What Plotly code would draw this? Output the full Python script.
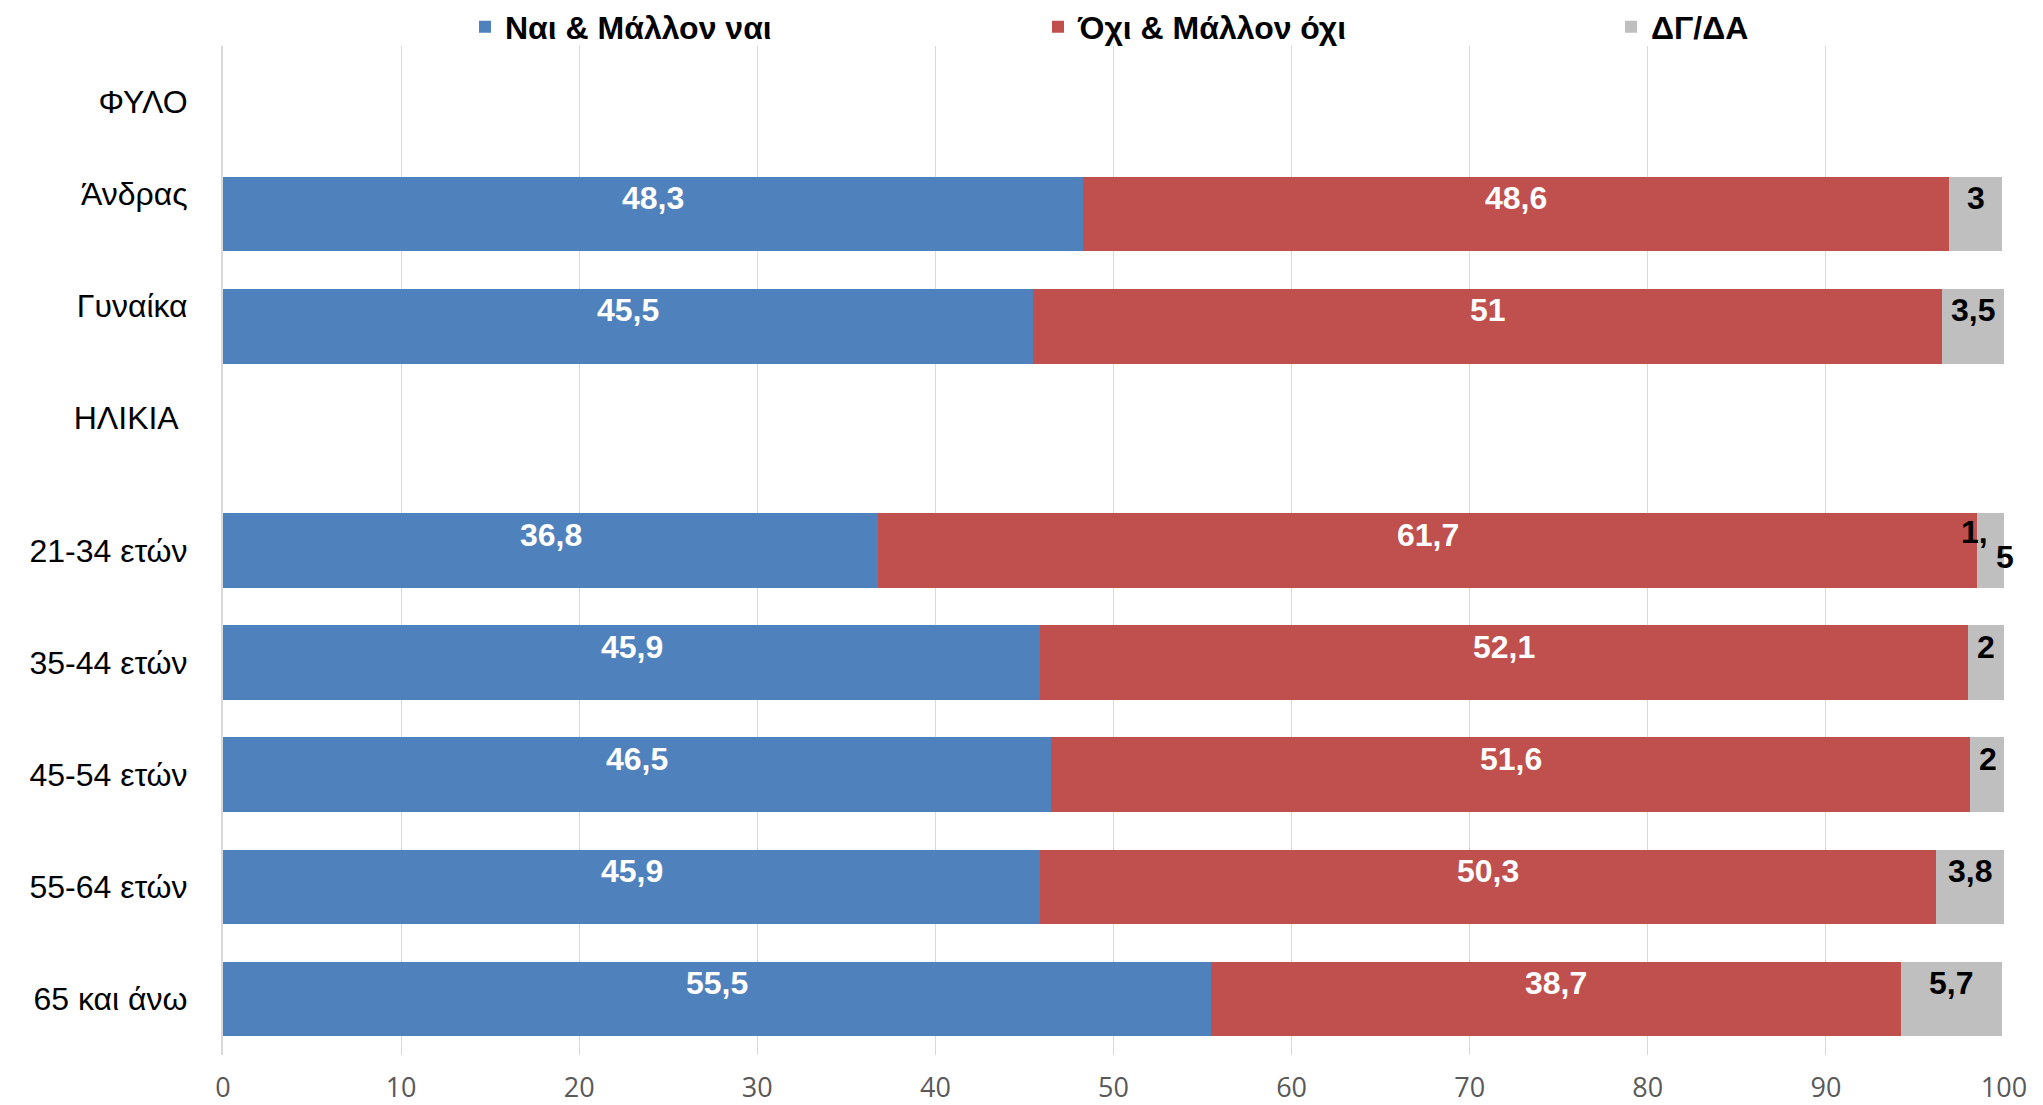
import plotly.graph_objects as go

categories = ["ΦΥΛΟ", "Άνδρας", "Γυναίκα", "ΗΛΙΚΙΑ", "21-34 ετών",
              "35-44 ετών", "45-54 ετών", "55-64 ετών", "65 και άνω"]
yes_vals = [None, 48.3, 45.5, None, 36.8, 45.9, 46.5, 45.9, 55.5]
no_vals = [None, 48.6, 51, None, 61.7, 52.1, 51.6, 50.3, 38.7]
dk_vals = [None, 3, 3.5, None, 1.5, 2, 2, 3.8, 5.7]
series_names = ["Ναι & Μάλλον ναι", "Όχι & Μάλλον όχι", "ΔΓ/ΔΑ"]
x_ticks = [0, 10, 20, 30, 40, 50, 60, 70, 80, 90, 100]

colors = ["#4F81BD", "#C0504D", "#BFBFBF"]
label_colors = ["white", "white", "black"]
# display text of category ticks (some carry an empty second line, as in the source)
tick_text = ["ΦΥΛΟ", "Άνδρας<br>&nbsp;", "Γυναίκα<br>&nbsp;", "ΗΛΙΚΙΑ&nbsp;<br>&nbsp;",
             "21-34 ετών", "35-44 ετών", "45-54 ετών", "55-64 ετών", "65 και άνω"]

FONT = "Liberation Sans, Arial, sans-serif"

# page body has an 8px margin; the figure is sized to fill the rest of the window
W, H = 2035, 1097
L, R, T, B = 215, 39, 38, 50
PW = W - L - R
PH = H - T - B


def fmt(v):
    s = ("%.1f" % v).replace(".", ",")
    if s.endswith(",0"):
        s = s[:-2]
    return s


fig = go.Figure()
series = [yes_vals, no_vals, dk_vals]
for name, vals, col in zip(series_names, series, colors):
    fig.add_trace(go.Bar(
        y=categories, x=vals, name="<b>%s</b>" % name, orientation="h",
        marker=dict(color=col, line=dict(width=0)),
        hoverinfo="x+y",
    ))

annotations = []
base = [0.0] * len(categories)
for vals, lc in zip(series, label_colors):
    for i, v in enumerate(vals):
        if v is None:
            continue
        c = base[i] + v / 2
        txt = fmt(v)
        f = dict(family=FONT, size=32, color=lc)
        if v < 2 and "," in txt:
            a, b = txt.split(",")
            annotations.append(dict(x=c, y=categories[i], text="<b>%s,</b>" % a,
                                    showarrow=False, font=f, xanchor="right",
                                    xshift=-1, yshift=19))
            annotations.append(dict(x=c, y=categories[i], text="<b>%s</b>" % b,
                                    showarrow=False, font=f, xanchor="left",
                                    xshift=3, yshift=-6))
        else:
            annotations.append(dict(x=c, y=categories[i], text="<b>%s</b>" % txt,
                                    showarrow=False, font=f, yshift=16))
        base[i] += v

fig.update_layout(
    width=W, height=H,
    margin=dict(l=L, r=R, t=T, b=B, autoexpand=False),
    barmode="stack", bargap=0.335,
    plot_bgcolor="white", paper_bgcolor="white",
    showlegend=True,
    legend=dict(orientation="h", x=(457 - L) / PW, xanchor="left",
                y=1 + (T - 19) / PH, yanchor="middle", traceorder="normal",
                font=dict(family=FONT, size=32, color="black"),
                entrywidth=528, entrywidthmode="pixels",
                bgcolor="rgba(0,0,0,0)"),
    annotations=annotations,
    xaxis=dict(range=[0, 100], tickvals=x_ticks, ticktext=[str(t) for t in x_ticks],
               showgrid=True, gridcolor="#D9D9D9", gridwidth=1.3,
               zeroline=False, showline=False, ticks="",
               ticklabelstandoff=14,
               tickfont=dict(family="Open Sans, sans-serif", size=27, color="#595959")),
    yaxis=dict(categoryorder="array", categoryarray=categories,
               tickvals=categories, ticktext=tick_text,
               autorange="reversed", showgrid=False, zeroline=False,
               showline=True, linecolor="#D9D9D9", linewidth=2,
               ticks="", ticklabelstandoff=27,
               tickfont=dict(family=FONT, size=32, color="black")),
)

fig.write_html("out.html")
